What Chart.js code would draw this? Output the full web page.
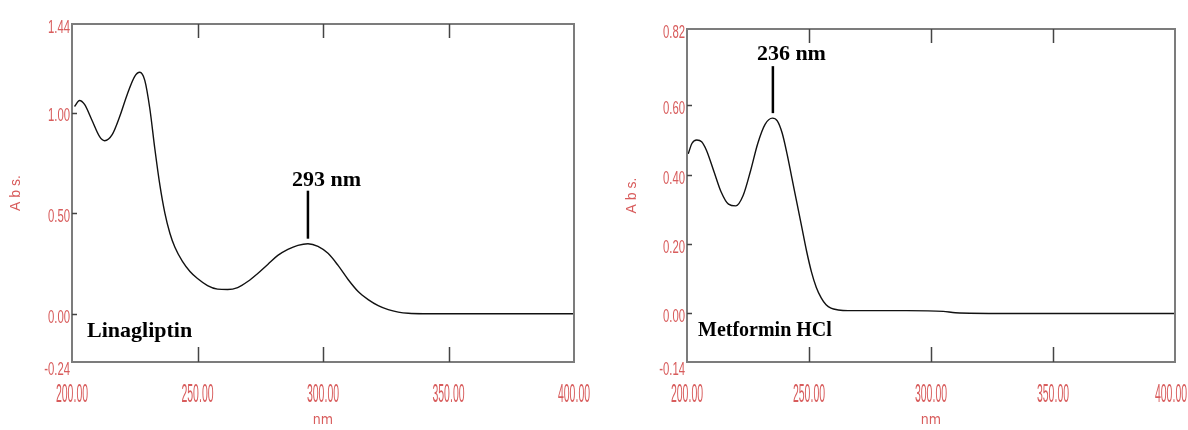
<!DOCTYPE html>
<html><head><meta charset="utf-8">
<script src="https://cdn.jsdelivr.net/npm/chart.js@4.4.1/dist/chart.umd.min.js"></script>
<style>
html,body{margin:0;padding:0;background:#fff;width:1188px;height:430px;overflow:hidden}
.box{position:absolute;top:0;height:430px;width:594px}
#b1{left:0}#b2{left:594px}
</style></head><body>
<div class="box" id="b1"><canvas id="c1" width="594" height="430"></canvas></div>
<div class="box" id="b2"><canvas id="c2" width="594" height="430"></canvas></div>
<script>
// ---- data ----
const linaWavelength = [201,203,205,208,211,213,216,219,222,225,227,229,231,233,235,237,239,241,244,247,250,254,258,262,266,270,274,278,282,286,290,294,298,302,306,310,314,318,322,326,330,334,340,360,380,400];
const linaAbs        = [1.03,1.06,1.04,0.96,0.88,0.86,0.89,0.98,1.09,1.18,1.20,1.16,1.02,0.82,0.64,0.50,0.40,0.33,0.26,0.21,0.175,0.14,0.122,0.12,0.13,0.16,0.20,0.245,0.29,0.32,0.34,0.348,0.335,0.30,0.24,0.17,0.11,0.07,0.04,0.02,0.008,0.002,0,0,0,0];
const metWavelength  = [200.5,202,204,206,208,211,214,217,220,223,226,229,232,235,237,239,241,243,245,247,249,251,253,255,257,259,262,266,275,290,305,310,330,360,400];
const metAbs         = [0.46,0.49,0.50,0.495,0.47,0.41,0.35,0.315,0.31,0.34,0.41,0.49,0.545,0.563,0.555,0.52,0.46,0.39,0.32,0.25,0.18,0.12,0.075,0.045,0.025,0.015,0.01,0.008,0.008,0.008,0.006,0.002,0,0,0];

const xTickValues = [200,250,300,350,400];
const xTickLabels = ['200.00','250.00','300.00','350.00','400.00'];
const linaYTickValues = [-0.24,0,0.5,1.0,1.44];
const linaYTickLabels = ['-0.24','0.00','0.50','1.00','1.44'];
const metYTickValues  = [-0.14,0,0.2,0.4,0.6,0.82];
const metYTickLabels  = ['-0.14','0.00','0.20','0.40','0.60','0.82'];

const sampleNames = ['Linagliptin','Metformin HCl'];
const peakLabels  = ['293 nm','236 nm'];
const peakNm      = [294, 235.2];
const peakAbs     = [0.348, 0.563];
const xTitle = 'nm';
const yTitle = 'A b s.';

// ---- styling ----
const RED = 'rgb(216,92,92)';
const FRAME = '#7c7c7c';

function condText(ctx, txt, x, y, sx, align){
  ctx.save();
  ctx.translate(x, y);
  ctx.scale(sx, 1);
  ctx.textAlign = align;
  ctx.fillText(txt, 0, 0);
  ctx.restore();
}

const framePlugin = {
  id: 'frame',
  afterDraw(chart){
    const o = chart.options.plugins.frame;
    const {ctx, chartArea: a} = chart;
    const xs = chart.scales.x, ys = chart.scales.y;
    ctx.save();
    ctx.strokeStyle = FRAME;
    ctx.lineWidth = 2;
    ctx.strokeRect(a.left, a.top, a.right - a.left, a.bottom - a.top);
    ctx.lineWidth = 1.5;
    ctx.strokeStyle = '#444';
    ctx.beginPath();
    xs.ticks.forEach(t => {
      const px = Math.round(xs.getPixelForValue(t.value)) + 0.5;
      if (px <= a.left + 2 || px >= a.right - 2) return;
      ctx.moveTo(px, a.bottom); ctx.lineTo(px, a.bottom - 15);
      ctx.moveTo(px, a.top); ctx.lineTo(px, a.top + 14);
    });
    ys.ticks.forEach(t => {
      const py = Math.round(ys.getPixelForValue(t.value)) + 0.5;
      if (py <= a.top + 2 || py >= a.bottom - 2) return;
      ctx.moveTo(a.left, py); ctx.lineTo(a.left + 5, py);
    });
    ctx.stroke();

    // tick labels (condensed, like the instrument software)
    ctx.fillStyle = RED;
    ctx.textBaseline = 'middle';
    ctx.font = '25px "Liberation Sans", Arial, sans-serif';
    xs.ticks.forEach((t, i) => {
      let px = xs.getPixelForValue(t.value);
      if (i === xs.ticks.length - 1) px = Math.min(px, chart.width - 17);
      condText(ctx, o.xLabels[i], px, a.bottom + 33, 0.42, 'center');
    });
    ctx.font = '18px "Liberation Sans", Arial, sans-serif';
    ys.ticks.forEach((t, i) => {
      const py = ys.getPixelForValue(t.value);
      const dy = (i === 0) ? 8 : 4;
      condText(ctx, o.yLabels[i], a.left - 2, py + dy, 0.63, 'right');
    });

    // peak annotation
    const mx = xs.getPixelForValue(o.peakX);
    const mb = ys.getPixelForValue(o.peakY) - 5;
    const mt = mb - o.markLen;
    ctx.strokeStyle = '#000';
    ctx.lineWidth = 2.5;
    ctx.beginPath(); ctx.moveTo(mx, mb); ctx.lineTo(mx, mt); ctx.stroke();
    ctx.fillStyle = '#000';
    ctx.textBaseline = 'alphabetic';
    ctx.textAlign = 'left';
    ctx.font = 'bold 22px "Liberation Serif", "Times New Roman", serif';
    ctx.fillText(o.peakText, mx - 16, mt - o.textGap);

    // sample name
    ctx.font = 'bold ' + o.nameSize + 'px "Liberation Serif", "Times New Roman", serif';
    ctx.fillText(o.name, a.left + o.nameDx, ys.getPixelForValue(0) + 23);
    ctx.restore();
  }
};

function makeChart(id, wl, ab, yVals, yLabels, L, idx){
  const pts = wl.map((w, i) => ({x: w, y: ab[i]}));
  return new Chart(document.getElementById(id), {
    type: 'scatter',
    data: { datasets: [{
      data: pts, showLine: true, borderColor: '#111', borderWidth: 1.4,
      pointRadius: 0, fill: false, tension: 0.4, cubicInterpolationMode: 'monotone'
    }]},
    options: {
      responsive: false, animation: false, devicePixelRatio: 1,
      layout: { padding: { top: L.top, right: L.right, left: 0, bottom: 0 } },
      plugins: {
        legend: {display: false}, tooltip: {enabled: false},
        frame: {
          xLabels: xTickLabels, yLabels: yLabels,
          peakX: peakNm[idx], peakY: peakAbs[idx], peakText: peakLabels[idx],
          markLen: L.markLen, textGap: L.textGap,
          name: sampleNames[idx], nameSize: L.nameSize, nameDx: L.nameDx
        }
      },
      scales: {
        x: {
          type: 'linear', min: 200, max: 400,
          afterBuildTicks: s => { s.ticks = xTickValues.map(v => ({value: v})); },
          afterFit: s => { s.height = 68; },
          ticks: { display: false },
          grid: { display: false },
          border: { display: false },
          title: { display: true, text: xTitle, color: RED,
                   font: {family: '"Liberation Sans Narrow", "DejaVu Sans Condensed", sans-serif', size: 14},
                   padding: {top: 0, bottom: 1} }
        },
        y: {
          type: 'linear', min: yVals[0], max: yVals[yVals.length - 1],
          afterBuildTicks: s => { s.ticks = yVals.map(v => ({value: v})); },
          afterFit: s => { s.width = L.axisW; },
          ticks: { display: false },
          grid: { display: false },
          border: { display: false },
          title: { display: true, text: yTitle, color: RED,
                   font: {family: '"Liberation Sans", sans-serif', size: 14},
                   padding: {top: L.titlePad, bottom: 0} }
        }
      }
    },
    plugins: [framePlugin]
  });
}

makeChart('c1', linaWavelength, linaAbs, linaYTickValues, linaYTickLabels,
  {top: 24, right: 20, axisW: 72, titlePad: 8, markLen: 48, textGap: 5, nameSize: 22, nameDx: 15}, 0);
makeChart('c2', metWavelength, metAbs, metYTickValues, metYTickLabels,
  {top: 29, right: 13, axisW: 93, titlePad: 30, markLen: 47, textGap: 6, nameSize: 20, nameDx: 11}, 1);
</script>
</body></html>
